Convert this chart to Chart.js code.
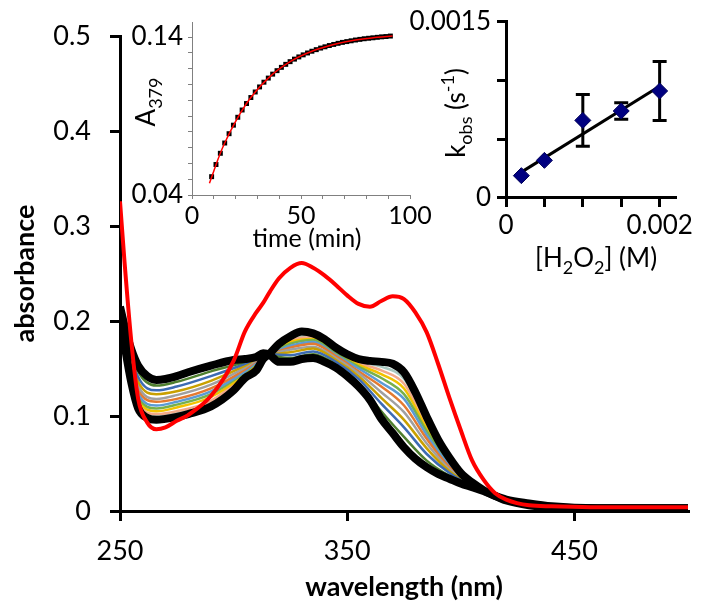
<!DOCTYPE html>
<html lang="en">
<head>
    <meta charset="UTF-8">
    <title>Absorbance spectra with kinetics insets</title>
    <script src="https://cdn.jsdelivr.net/npm/chart.js@4.4.0/dist/chart.umd.min.js"></script>
    <style>
        body { margin: 0; background: #fff; }
        #wrap { position: relative; width: 714px; height: 612px; }
        #wrap canvas { position: absolute; left: 0; top: 0; }
    </style>
</head>
<body>
    <div id="wrap">
        <canvas id="main" width="714" height="612"></canvas>
        <canvas id="kin" width="714" height="612"></canvas>
        <canvas id="rate" width="714" height="612"></canvas>
    </div>

    <script>
        const FONT = "Lato, 'Open Sans', sans-serif";

        // main spectra: wavelength grid for the thick curves
        const wavelengthTicks = [250, 350, 450];
        const wavelengths = [250,252,255,258,262,266,270,275,280,290,300,305,310,313,316,320,325,330,335,340,345,350,355,360,365,370,375,380,385,390,395,400,405,410,415,420,430,440,460,480,500];
        const startSpectrum = [0.215,0.195,0.170,0.153,0.142,0.138,0.139,0.142,0.146,0.153,0.159,0.160,0.162,0.166,0.164,0.157,0.157,0.160,0.161,0.157,0.151,0.142,0.131,0.117,0.097,0.082,0.067,0.055,0.046,0.039,0.034,0.029,0.025,0.021,0.016,0.012,0.008,0.005,0.003,0.003,0.003];
        const endSpectrum = [0.205,0.175,0.135,0.108,0.098,0.096,0.097,0.099,0.102,0.110,0.127,0.140,0.148,0.160,0.166,0.176,0.184,0.189,0.187,0.181,0.172,0.165,0.160,0.158,0.157,0.155,0.146,0.125,0.099,0.075,0.056,0.040,0.030,0.022,0.016,0.011,0.006,0.004,0.003,0.003,0.003];
        const redSpectrum = [0.326,0.262,0.178,0.118,0.093,0.086,0.088,0.095,0.101,0.121,0.158,0.189,0.209,0.219,0.231,0.245,0.256,0.261,0.256,0.248,0.238,0.227,0.218,0.215,0.221,0.226,0.223,0.209,0.188,0.155,0.119,0.085,0.053,0.033,0.019,0.012,0.006,0.005,0.004,0.004,0.004];

        // intermediate spectra (coarser grid)
        const midWavelengths = [250,253,258,266,275,290,305,313,316,325,335,345,355,365,375,385,395,405,415,430,460,500];
        const mid1 = [0.214,0.184,0.147,0.132,0.136,0.147,0.157,0.165,0.164,0.161,0.165,0.154,0.135,0.105,0.078,0.053,0.037,0.026,0.016,0.008,0.003,0.003];
        const mid2 = [0.212,0.181,0.141,0.127,0.131,0.142,0.155,0.164,0.165,0.164,0.168,0.157,0.139,0.113,0.088,0.060,0.040,0.026,0.016,0.008,0.003,0.003];
        const mid3 = [0.211,0.178,0.136,0.123,0.126,0.137,0.153,0.164,0.165,0.167,0.171,0.159,0.142,0.119,0.096,0.066,0.042,0.027,0.016,0.007,0.003,0.003];
        const mid4 = [0.210,0.175,0.132,0.118,0.122,0.133,0.151,0.163,0.165,0.170,0.173,0.161,0.145,0.125,0.104,0.071,0.044,0.027,0.016,0.007,0.003,0.003];
        const mid5 = [0.209,0.173,0.128,0.115,0.118,0.129,0.149,0.163,0.165,0.172,0.176,0.163,0.147,0.131,0.111,0.076,0.046,0.028,0.016,0.007,0.003,0.003];
        const mid6 = [0.209,0.171,0.124,0.111,0.115,0.126,0.147,0.162,0.165,0.174,0.178,0.164,0.150,0.135,0.118,0.080,0.048,0.028,0.016,0.007,0.003,0.003];
        const mid7 = [0.208,0.169,0.121,0.108,0.112,0.123,0.146,0.162,0.165,0.176,0.180,0.166,0.152,0.140,0.123,0.084,0.050,0.029,0.016,0.007,0.003,0.003];
        const mid8 = [0.207,0.168,0.118,0.105,0.109,0.120,0.144,0.161,0.166,0.178,0.181,0.167,0.154,0.144,0.129,0.087,0.051,0.029,0.016,0.006,0.003,0.003];
        const mid9 = [0.207,0.166,0.115,0.102,0.105,0.116,0.143,0.161,0.166,0.180,0.183,0.169,0.156,0.148,0.134,0.091,0.053,0.029,0.016,0.006,0.003,0.003];
        const mid10 = [0.206,0.164,0.112,0.100,0.103,0.114,0.142,0.160,0.166,0.182,0.185,0.170,0.157,0.152,0.139,0.094,0.054,0.030,0.016,0.006,0.003,0.003];
        const midColors = ['#4f7f2f','#3d6bb3','#c9a000','#a0a0a0','#e47a30','#5b9bd5','#78b04a','#f2c200','#f2a98a','#a8c8c0'];

        // inset 1: A379 vs time
        const timeMin = [9,11,13,15,17,19,21,23,25,27,29,31,33,35,37,39,41,43,45,47,49,51,53,55,57,59,61,63,65,67,69,71,73,75,77,79,81,83,85,87,89,91];
        const a379 = [0.0516,0.0593,0.0664,0.0729,0.0788,0.0842,0.0892,0.0938,0.0979,0.1017,0.1052,0.1084,0.1114,0.1140,0.1165,0.1187,0.1208,0.1227,0.1244,0.1260,0.1274,0.1287,0.1299,0.1310,0.1320,0.1330,0.1338,0.1346,0.1353,0.1360,0.1366,0.1371,0.1376,0.1381,0.1385,0.1389,0.1392,0.1395,0.1398,0.1401,0.1403,0.1406];
        const fitTime = [8,15,25,35,45,55,65,75,85,92];
        const fitA379 = [0.0475,0.0729,0.0979,0.1140,0.1244,0.1310,0.1353,0.1381,0.1398,0.1407];

        // inset 2: kobs vs [H2O2]
        const h2o2 = [0.0002,0.0005,0.001,0.0015,0.002];
        const kobs = [0.00019,0.00032,0.00066,0.00074,0.00091];
        const kobsErr = [0,0,0.00022,0.00007,0.00025];
        const lineH2o2 = [0.0002,0.002];
        const lineKobs = [0.00022,0.00095];

        function pts(xs, ys) {
            return xs.map((x, i) => ({ x: x, y: ys[i] }));
        }

        function near(a, b) { return Math.abs(a - b) < 1e-9; }

        // text with sub/superscripts, centred on (cx, cy)
        function drawRich(ctx, parts, cx, cy, size, rotate) {
            const small = Math.round(size * 0.68);
            ctx.save();
            ctx.translate(cx, cy);
            if (rotate) ctx.rotate(-Math.PI / 2);
            ctx.fillStyle = '#000';
            ctx.textBaseline = 'alphabetic';
            ctx.textAlign = 'left';
            let total = 0;
            parts.forEach(p => {
                ctx.font = ((p.sub || p.sup) ? small : size) + 'px ' + FONT;
                p.w = ctx.measureText(p.t).width;
                total += p.w;
            });
            let x = -total / 2;
            const base = size * 0.35;
            parts.forEach(p => {
                ctx.font = ((p.sub || p.sup) ? small : size) + 'px ' + FONT;
                const dy = p.sub ? size * 0.25 : (p.sup ? -size * 0.42 : 0);
                ctx.fillText(p.t, x, base + dy);
                x += p.w;
            });
            ctx.restore();
        }

        const common = {
            responsive: false,
            animation: false,
            events: [],
            plugins: { legend: { display: false }, tooltip: { enabled: false } }
        };

        // ---------- main chart ----------
        const mainSets = [];
        mainSets.push({ data: pts(wavelengths, redSpectrum), borderColor: '#ff0000', borderWidth: 4, order: 0 });
        mainSets.push({ data: pts(wavelengths, startSpectrum), borderColor: '#000', borderWidth: 8, order: 1 });
        mainSets.push({ data: pts(wavelengths, endSpectrum), borderColor: '#000', borderWidth: 8, order: 1 });
        [mid1, mid2, mid3, mid4, mid5, mid6, mid7, mid8, mid9, mid10].forEach((m, i) => {
            mainSets.push({ data: pts(midWavelengths, m), borderColor: midColors[i], borderWidth: 2.5, order: 2 + i });
        });
        mainSets.forEach(d => {
            d.showLine = true;
            d.pointRadius = 0;
            d.cubicInterpolationMode = 'monotone';
        });

        new Chart(document.getElementById('main'), {
            type: 'scatter',
            data: { datasets: mainSets },
            options: Object.assign({}, common, {
                layout: { padding: { left: 0, top: 36, right: 26, bottom: 0 } },
                scales: {
                    x: {
                        type: 'linear', min: 250, max: 500,
                        afterFit: s => { s.height = 101; },
                        afterBuildTicks: s => { s.ticks = wavelengthTicks.map(v => ({ value: v })); },
                        border: { color: '#000', width: 3 },
                        grid: { drawOnChartArea: false, color: '#000', lineWidth: 3, tickLength: 10 },
                        ticks: { autoSkip: false, maxRotation: 0, padding: 14, color: '#000', font: { family: FONT, size: 27 } },
                        title: { display: true, text: 'wavelength (nm)', color: '#000', font: { family: FONT, size: 27, weight: 'bold' }, padding: { top: 0, bottom: 9 } }
                    },
                    y: {
                        min: 0, max: 0.5,
                        afterFit: s => { s.width = 120; },
                        border: { color: '#000', width: 3 },
                        grid: { drawOnChartArea: false, color: '#000', lineWidth: 3, tickLength: 10 },
                        ticks: { stepSize: 0.1, padding: 19, color: '#000', font: { family: FONT, size: 27 },
                                 callback: v => near(v, 0) ? '0' : v.toFixed(1) },
                        title: { display: true, text: 'absorbance', color: '#000', font: { family: FONT, size: 27, weight: 'bold' }, padding: { top: 9, bottom: 0 } }
                    }
                }
            })
        });

        // ---------- inset 1: kinetics trace ----------
        const kinLabels = {
            id: 'kinLabels',
            afterDraw(chart) {
                const ctx = chart.ctx;
                drawRich(ctx, [{ t: 'A' }, { t: '379', sub: true }], 146, 102, 26, true);
                drawRich(ctx, [{ t: 'time (min)' }], 307, 238, 25, false);
            }
        };

        new Chart(document.getElementById('kin'), {
            type: 'scatter',
            data: {
                datasets: [
                    { data: pts(fitTime, fitA379), showLine: true, borderColor: '#ff0000', borderWidth: 1.5, pointRadius: 0, tension: 0.4, order: 0 },
                    { data: pts(timeMin, a379), pointStyle: 'rect', pointRadius: 3.5, backgroundColor: '#000', borderColor: '#000', borderWidth: 0, order: 1 }
                ]
            },
            options: Object.assign({}, common, {
                layout: { padding: { left: 112, top: 22, right: 304, bottom: 357 } },
                scales: {
                    x: {
                        type: 'linear', min: 0, max: 100,
                        afterFit: s => { s.height = 60; },
                        border: { color: '#808080', width: 1 },
                        grid: { drawOnChartArea: false, color: '#808080', lineWidth: 1, tickLength: 4 },
                        ticks: { stepSize: 10, autoSkip: false, maxRotation: 0, padding: 2, color: '#000', font: { family: FONT, size: 25 },
                                 callback: v => (v % 50 === 0) ? String(v) : '' }
                    },
                    y: {
                        min: 0.04, max: 0.1495,
                        afterFit: s => { s.width = 80; },
                        border: { color: '#808080', width: 1 },
                        grid: { drawOnChartArea: false, color: '#808080', lineWidth: 1, tickLength: 4 },
                        ticks: { stepSize: 0.01, includeBounds: false, autoSkip: false, padding: 5, color: '#000', font: { family: FONT, size: 26 },
                                 callback: v => near(v, 0.04) ? '0.04' : (near(v, 0.14) ? '0.14' : '') }
                    }
                }
            }),
            plugins: [kinLabels]
        });

        // ---------- inset 2: kobs vs [H2O2] ----------
        const errorBars = {
            id: 'errorBars',
            beforeDatasetsDraw(chart) {
                const ctx = chart.ctx;
                const xs = chart.scales.x, ys = chart.scales.y;
                ctx.save();
                ctx.strokeStyle = '#000';
                ctx.lineWidth = 3;
                h2o2.forEach((c, i) => {
                    if (!kobsErr[i]) return;
                    const px = xs.getPixelForValue(c);
                    const top = ys.getPixelForValue(kobs[i] + kobsErr[i]);
                    const bot = ys.getPixelForValue(kobs[i] - kobsErr[i]);
                    ctx.beginPath();
                    ctx.moveTo(px, top); ctx.lineTo(px, bot);
                    ctx.moveTo(px - 7, top); ctx.lineTo(px + 7, top);
                    ctx.moveTo(px - 7, bot); ctx.lineTo(px + 7, bot);
                    ctx.stroke();
                });
                ctx.restore();
            },
            afterDraw(chart) {
                const ctx = chart.ctx;
                drawRich(ctx, [{ t: 'k' }, { t: 'obs', sub: true }, { t: ' (s' }, { t: '-1', sup: true }, { t: ')' }], 456, 113, 26, true);
                drawRich(ctx, [{ t: '[H' }, { t: '2', sub: true }, { t: 'O' }, { t: '2', sub: true }, { t: '] (M)' }], 596, 258, 26, false);
            }
        };

        new Chart(document.getElementById('rate'), {
            type: 'scatter',
            data: {
                datasets: [
                    { data: pts(h2o2, kobs), pointStyle: 'rectRot', pointRadius: 8, backgroundColor: '#000080', borderColor: '#00005a', borderWidth: 1, order: 0 },
                    { data: pts(lineH2o2, lineKobs), showLine: true, borderColor: '#000', borderWidth: 3, pointRadius: 0, order: 1 }
                ]
            },
            options: Object.assign({}, common, {
                layout: { padding: { left: 406, top: 17, right: 39, bottom: 354 } },
                scales: {
                    x: {
                        type: 'linear', min: 0, max: 0.0022,
                        afterFit: s => { s.height = 60; },
                        border: { color: '#000', width: 3 },
                        grid: { drawOnChartArea: false, color: '#000', lineWidth: 3, tickLength: 9 },
                        ticks: { stepSize: 0.0005, includeBounds: false, autoSkip: false, maxRotation: 0, padding: 3, color: '#000', font: { family: FONT, size: 26 },
                                 callback: v => near(v, 0) ? '0' : (near(v, 0.002) ? '0.002' : '') }
                    },
                    y: {
                        min: 0, max: 0.0015,
                        afterFit: s => { s.width = 100; },
                        border: { color: '#000', width: 3 },
                        grid: { drawOnChartArea: false, color: '#000', lineWidth: 3, tickLength: 9 },
                        ticks: { stepSize: 0.0005, autoSkip: false, padding: 6, color: '#000', font: { family: FONT, size: 26 },
                                 callback: v => near(v, 0) ? '0' : (near(v, 0.0015) ? '0.0015' : '') }
                    }
                }
            }),
            plugins: [errorBars]
        });
    </script>
</body>
</html>
